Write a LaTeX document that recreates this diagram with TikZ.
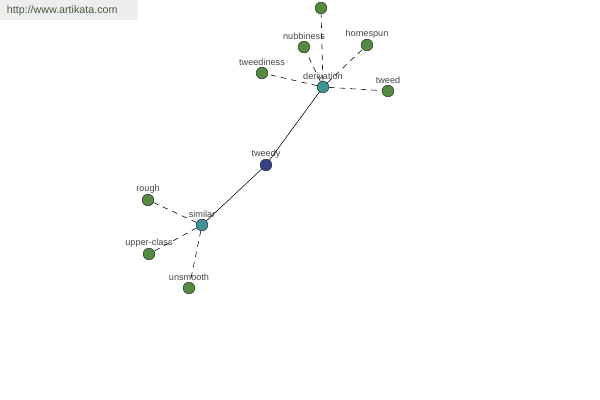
\documentclass[tikz,border=0pt]{standalone}
\usepackage{fontspec}
\setmainfont{Liberation Sans}
\usepackage{xcolor}
\usetikzlibrary{positioning}

\definecolor{leafgreen}{RGB}{82,140,62}
\definecolor{hubteal}{RGB}{60,150,150}
\definecolor{rootblue}{RGB}{52,64,140}
\definecolor{labelgray}{RGB}{70,70,70}
\definecolor{bannergray}{RGB}{238,238,238}
\definecolor{bannertext}{RGB}{70,90,60}

\begin{document}
\begin{tikzpicture}[
    x=0.025cm, y=-0.025cm,
    word/.style={circle, draw=black!80, thin, minimum size=0.29cm, inner sep=0pt,
        label={[font=\fontsize{6.5}{7}\selectfont, text=labelgray, inner sep=0.5pt]above:#1}},
    leaf/.style={word=#1, fill=leafgreen},
    hub/.style={word=#1, fill=hubteal},
    root/.style={word=#1, fill=rootblue},
    link/.style={thin, black},
    dlink/.style={thin, black, dash pattern=on 4pt off 3.5pt}
]
\useasboundingbox (0,0) rectangle (600,400);
\fill[bannergray] (0,0) rectangle (138,20);
\node[font=\fontsize{7.6}{9}\selectfont, text=bannertext, anchor=west] (site) at (2,11) {http://www.artikata.com};

% main words
\node[root=tweedy] (tweedy) at (266,165) {};
\node[hub=derivation] (derivation) at (323,87) {};
\node[hub=similar] (similar) at (202,225) {};

% derivation group
\node[leaf=] (top) at (321,8) {};
\node[leaf=nubbiness] (nubbiness) at (304,47) {};
\node[leaf=homespun] (homespun) at (367,45) {};
\node[leaf=tweediness] (tweediness) at (262,73) {};
\node[leaf=tweed] (tweed) at (388,91) {};

% similar group
\node[leaf=rough] (rough) at (148,200) {};
\node[leaf=upper-class] (upperclass) at (149,254) {};
\node[leaf=unsmooth] (unsmooth) at (189,288) {};

\draw[link] (tweedy) -- (derivation);
\draw[link] (tweedy) -- (similar);

\foreach \w in {top, nubbiness, homespun, tweediness, tweed}
    \draw[dlink] (derivation) -- (\w);
\foreach \w in {rough, upperclass, unsmooth}
    \draw[dlink] (similar) -- (\w);

\end{tikzpicture}
\end{document}
